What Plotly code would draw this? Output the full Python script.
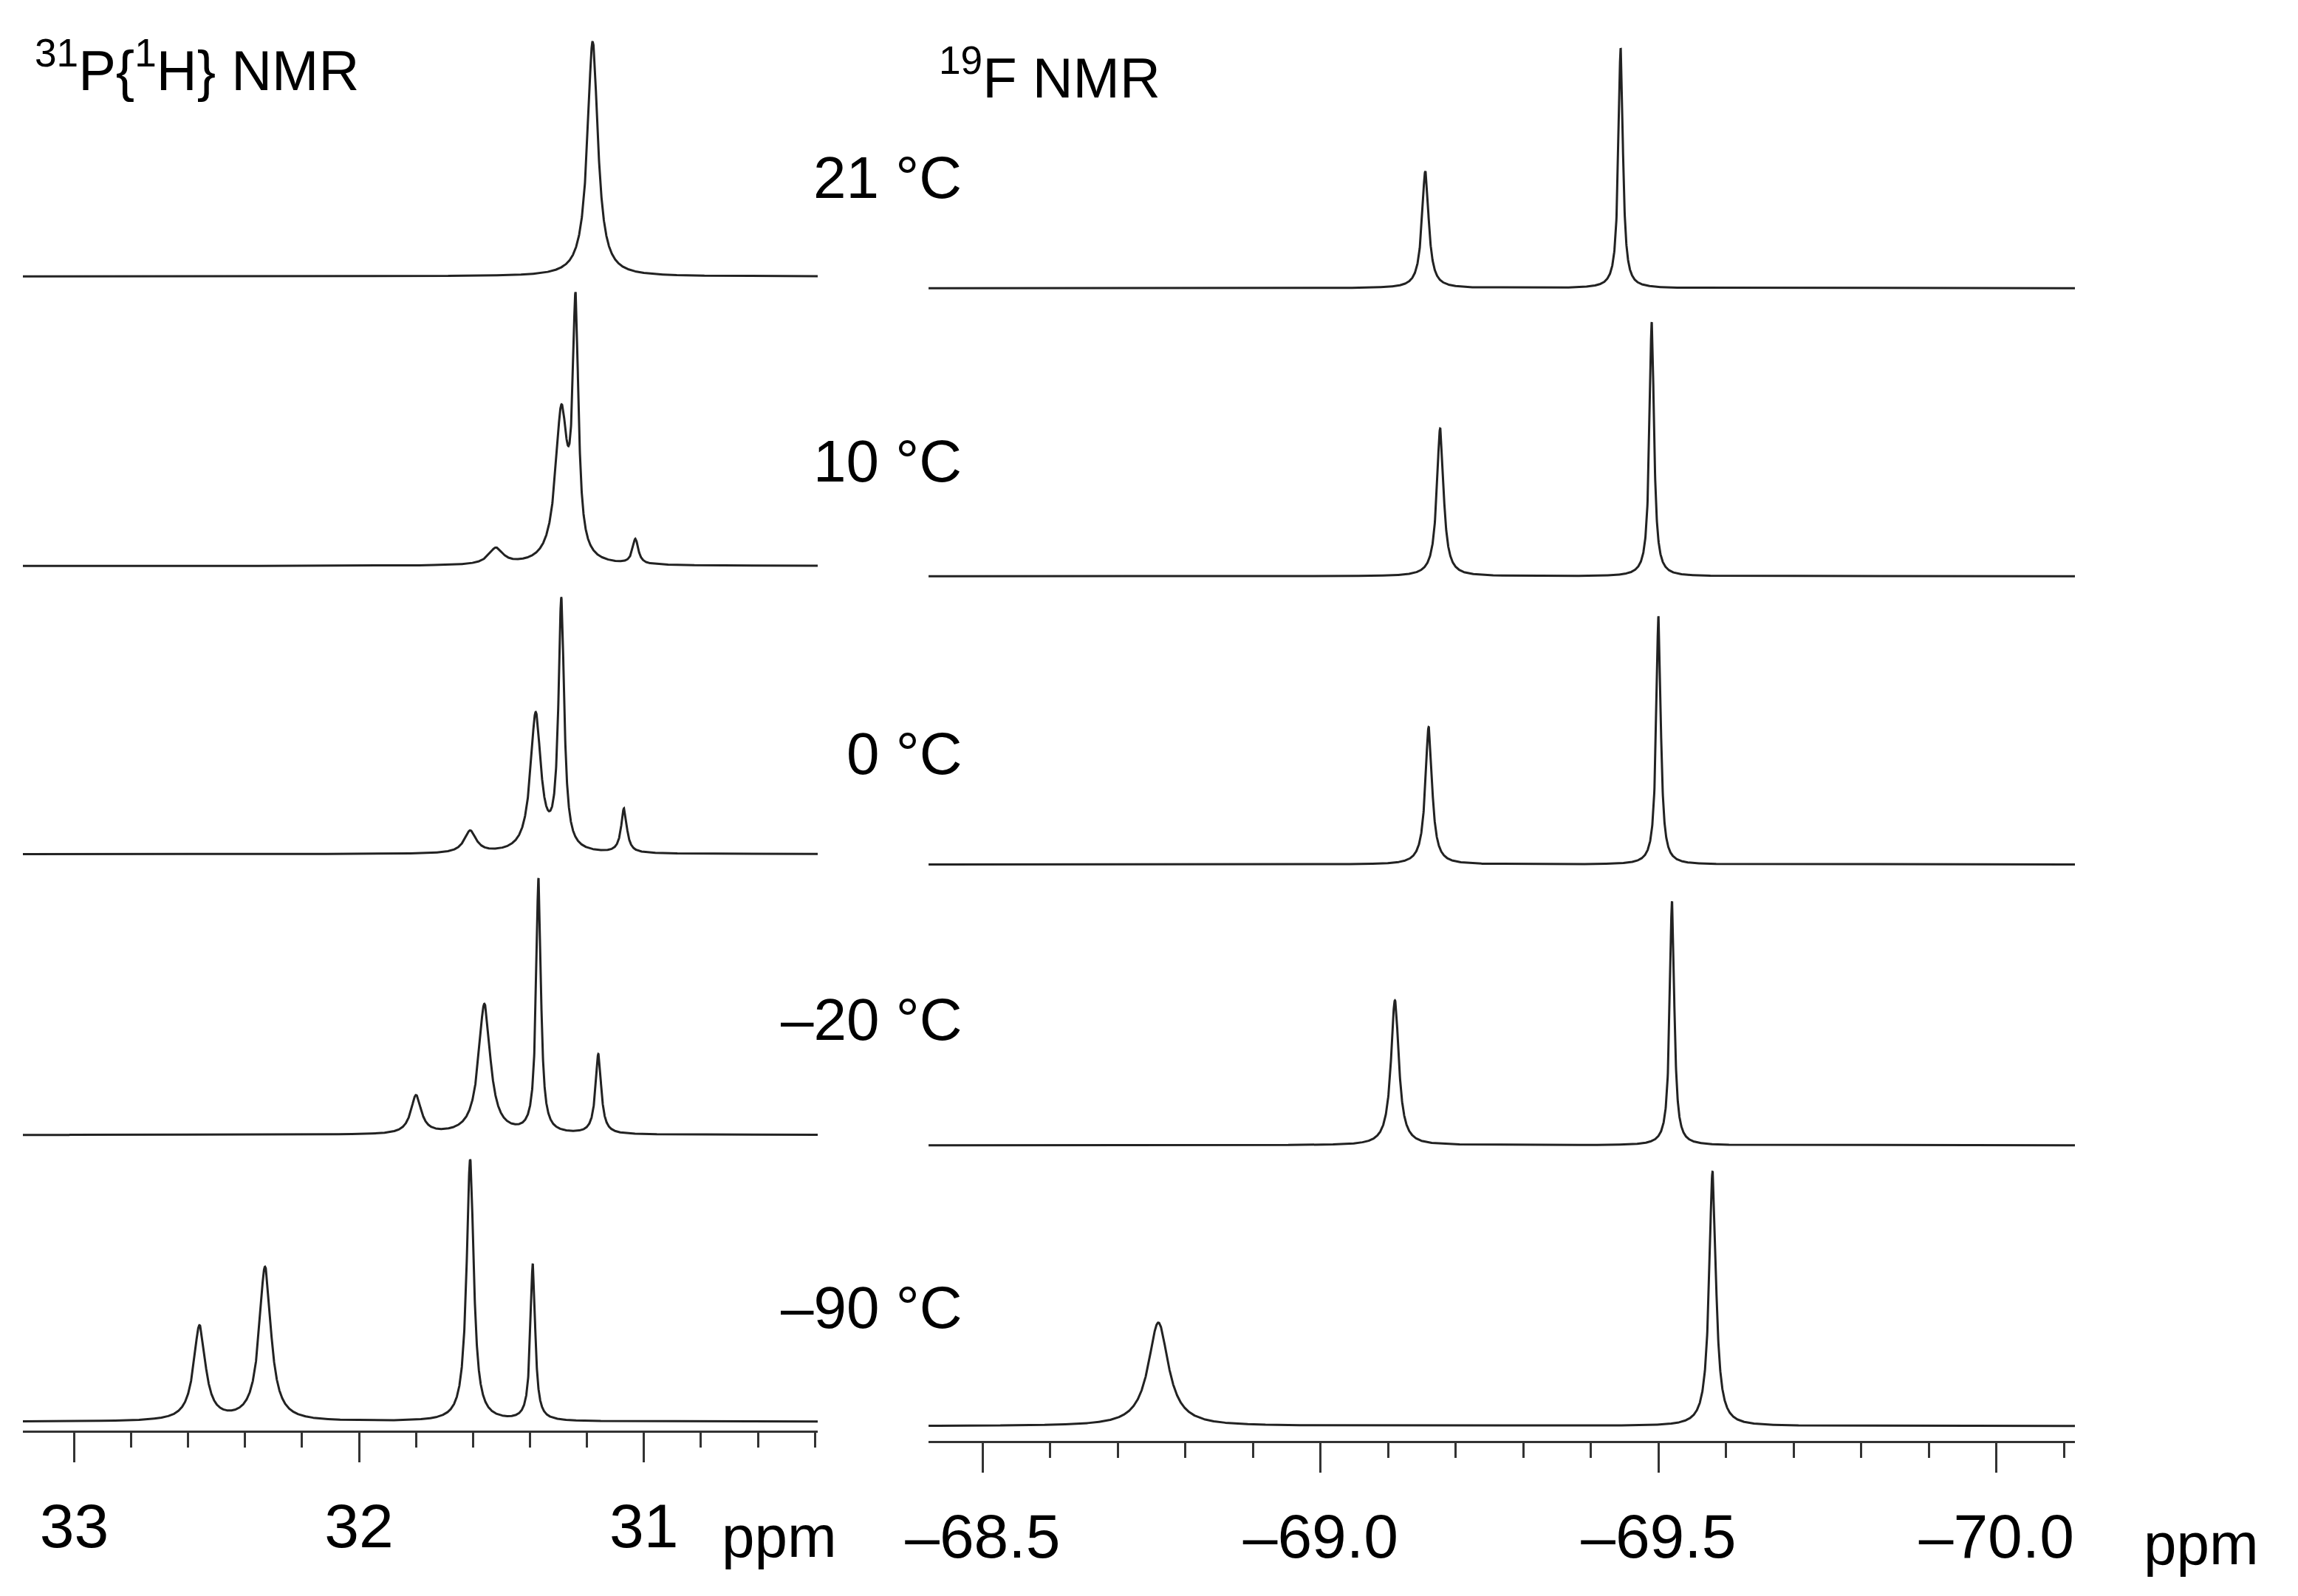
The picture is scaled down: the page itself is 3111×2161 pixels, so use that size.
import numpy as np
import plotly.graph_objects as go

W, H = 3111, 2161
DX = -15  # horizontal nudge (reference display px)

temps = ["21 °C", "10 °C", "0 °C", "–20 °C", "–90 °C"]
temp_label_y = [120, 312, 510, 690, 885]

# 31P{1H}: baselines (stack offsets) and peaks (ppm, height, half-width ppm)
p_base = [187, 383, 578, 768, 962]
p_peaks = [
    [(31.18, 159, 0.022)],
    [(31.52, 11, 0.03), (31.29, 100, 0.025), (31.24, 165, 0.012), (31.03, 17, 0.012)],
    [(31.61, 15, 0.025), (31.38, 93, 0.022), (31.29, 168, 0.012), (31.07, 30, 0.012)],
    [(31.80, 26, 0.022), (31.56, 88, 0.025), (31.37, 172, 0.01), (31.16, 54, 0.012)],
    [(32.56, 64, 0.025), (32.33, 104, 0.025), (31.61, 177, 0.015), (31.39, 106, 0.01)],
]
# 19F
f_base = [195, 390, 585, 775, 965]
f_peaks = [
    [(-69.155, 79, 0.006), (-69.444, 162, 0.004)],
    [(-69.177, 100, 0.006), (-69.49, 172, 0.004)],
    [(-69.16, 93, 0.006), (-69.50, 168, 0.004)],
    [(-69.11, 98, 0.007), (-69.52, 165, 0.004)],
    [(-68.76, 70, 0.018), (-69.58, 172, 0.006)],
]

def spectrum(x, peaks):
    y = np.zeros_like(x)
    for c, h, g in peaks:
        y += h * g**2 / ((x - c)**2 + g**2)
    return y

fig = go.Figure()
xp = np.linspace(30.39, 33.2, 6000)
xf = np.linspace(-70.12, -68.42, 6000)
for b, pk in zip(p_base, p_peaks):
    fig.add_trace(go.Scatter(x=xp, y=b - spectrum(xp, pk), mode="lines",
                             line=dict(color="#222", width=3), xaxis="x", yaxis="y"))
for b, pk in zip(f_base, f_peaks):
    fig.add_trace(go.Scatter(x=xf, y=b - spectrum(xf, pk), mode="lines",
                             line=dict(color="#222", width=3), xaxis="x2", yaxis="y2"))

tick_font = dict(family="Liberation Sans", size=84, color="black")
common = dict(showgrid=False, zeroline=False, showline=True, linecolor="#333", linewidth=3,
              ticks="outside", tickwidth=3, tickcolor="#333", ticklen=40, tickfont=tick_font,
              ticklabelstandoff=14)
ybot1, ybot2 = 968, 975
fig.update_layout(
    width=W, height=H, margin=dict(l=0, r=0, t=0, b=0),
    plot_bgcolor="white", paper_bgcolor="white", showlegend=False,
    xaxis=dict(domain=[(15 + DX)/1560, (560 + DX)/1560], range=[33.18, 30.39], anchor="y",
               tickvals=[33, 32, 31], ticktext=["33", "32", "31"],
               minor=dict(dtick=0.2, ticks="outside", ticklen=20, tickwidth=3, tickcolor="#333"),
               **common),
    xaxis2=dict(domain=[(636 + DX)/1560, (1422 + DX)/1560], range=[-68.42, -70.116], anchor="y2",
                tickvals=[-68.5, -69.0, -69.5, -70.0], ticktext=["–68.5", "–69.0", "–69.5", "–70.0"],
                minor=dict(dtick=0.1, ticks="outside", ticklen=20, tickwidth=3, tickcolor="#333"),
                **common),
    yaxis=dict(domain=[1 - ybot1/1080, 1], range=[ybot1, 0], visible=False),
    yaxis2=dict(domain=[1 - ybot2/1080, 1], range=[ybot2, 0], visible=False),
)

def ann(text, x, y, size, xanchor="left"):
    fig.add_annotation(text=text, x=(x + DX)/1560, y=1 - y/1080, xref="paper", yref="paper",
                       showarrow=False, xanchor=xanchor, yanchor="middle",
                       font=dict(family="Liberation Sans", size=size, color="black"))

ann("<sup>31</sup>P{<sup>1</sup>H} NMR", 22, 45, 76)
ann("<sup>19</sup>F NMR", 642, 50, 76)
for t, y in zip(temps, temp_label_y):
    ann(t, 660, y, 80, "right")
ann("ppm", 493, 1040, 80)
ann("ppm", 1468, 1045, 80)

fig.write_html("out.html", config={"displayModeBar": False})
with open("out.html", encoding="utf-8") as f:
    html = f.read()
html = html.replace("<head>", "<head><style>html,body{margin:0;padding:0;overflow:hidden}</style>", 1)
with open("out.html", "w", encoding="utf-8") as f:
    f.write(html)
